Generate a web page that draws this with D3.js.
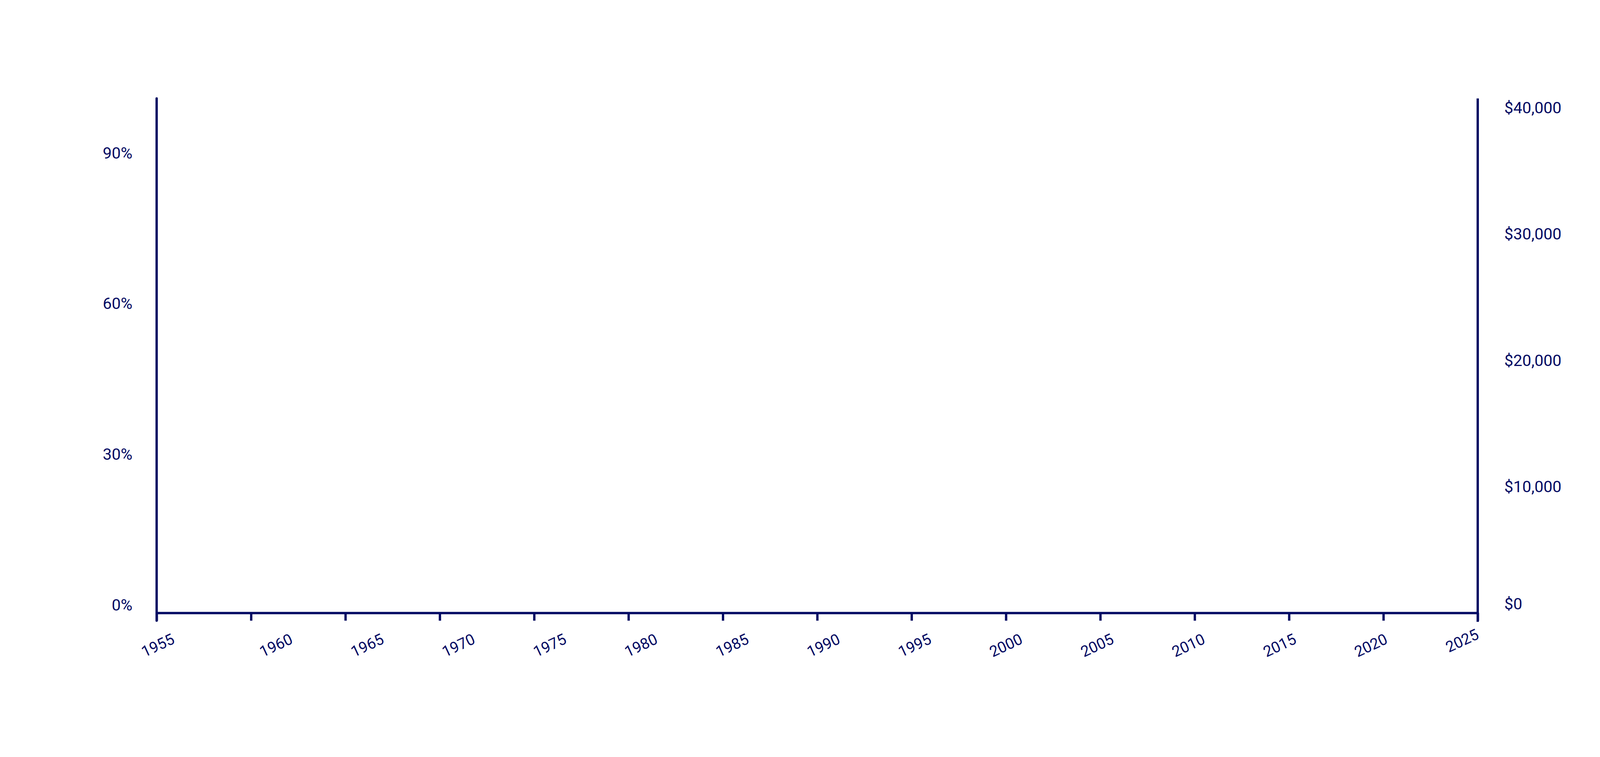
<!DOCTYPE html>
<html>
<head>
<meta charset="utf-8">
<script src="https://cdn.jsdelivr.net/npm/d3@7"></script>
<style>
  html, body { margin: 0; padding: 0; background: #fff; }
  svg { display: block; font-family: Roboto, "Noto Sans", sans-serif; }
</style>
</head>
<body>
<div id="chart"></div>
<script>
// Axis-only chart: years along the bottom, share (left) and dollars (right)

const years = [1955, 1960, 1965, 1970, 1975, 1980, 1985, 1990, 1995, 2000, 2005, 2010, 2015, 2020, 2025];
const pctTicks = [0, 0.3, 0.6, 0.9];
const usdTicks = [0, 10000, 20000, 30000, 40000];

const W = 4320, H = 1938;
const ink = '#020a63';
const plot = { left: 401, right: 3783, top: 252, bottom: 1569 };

const svg = d3.select('#chart').append('svg')
    .attr('width', W)
    .attr('height', H);

// Scales
const x = d3.scaleLinear()
    .domain([1955, 2025])
    .range([plot.left, plot.right]);

const yPct = d3.scaleLinear()
    .domain([0, 0.9])
    .range([1549, 392]);

const yUsd = d3.scaleLinear()
    .domain([0, 40000])
    .range([plot.bottom + 1, 277]);

// tick labels sit on a slightly tighter spread than the ticks themselves
const labelX = d3.scaleLinear()
    .domain([1960, 2025])
    .range([x(1960) + 64, x(2025) - 40]);

// X axis
const xAxis = svg.append('g')
    .attr('transform', `translate(0,${plot.bottom})`)
    .call(d3.axisBottom(x)
        .tickValues(years)
        .tickSize(20)
        .tickSizeOuter(0)
        .tickFormat(''));

xAxis.select('.domain')
    .attr('stroke', ink)
    .attr('stroke-width', 6);
xAxis.selectAll('.tick line')
    .attr('stroke', ink)
    .attr('stroke-width', 6);

svg.append('g')
    .selectAll('text')
    .data(years)
    .join('text')
    .attr('transform', (d, i) => {
        const cx = i === 0 ? x(d) + 3 : labelX(d);
        const cy = i === years.length - 1 ? 1640 : 1652;
        return `translate(${cx},${cy}) rotate(-25)`;
    })
    .attr('text-anchor', 'middle')
    .attr('dy', '0.35em')
    .attr('font-size', 39)
    .attr('fill', ink)
    .text(d => d);

// Left axis
const leftAxis = svg.append('g')
    .attr('transform', `translate(${plot.left},0)`)
    .call(d3.axisLeft(yPct)
        .tickValues(pctTicks)
        .tickSize(0)
        .tickPadding(62)
        .tickFormat(d3.format('.0%')));

leftAxis.select('.domain').remove();
leftAxis.selectAll('text')
    .attr('font-size', 41)
    .attr('font-family', 'Roboto, "Noto Sans", sans-serif')
    .attr('fill', ink);

svg.append('line')
    .attr('x1', plot.left).attr('x2', plot.left)
    .attr('y1', plot.top).attr('y2', plot.bottom + 20)
    .attr('stroke', ink)
    .attr('stroke-width', 6)
    .attr('stroke-linecap', 'round');

// Right axis
const rightAxis = svg.append('g')
    .attr('transform', `translate(${plot.right},0)`)
    .call(d3.axisRight(yUsd)
        .tickValues(usdTicks)
        .tickSize(0)
        .tickPadding(68)
        .tickFormat(d => '$' + d3.format(',')(d)));

rightAxis.select('.domain').remove();
// keep the $0 label clear of the baseline
rightAxis.selectAll('.tick')
    .attr('transform', d => `translate(0,${Math.min(yUsd(d), plot.bottom - 22)})`);
rightAxis.selectAll('text')
    .attr('font-size', 41)
    .attr('font-family', 'Roboto, "Noto Sans", sans-serif')
    .attr('fill', ink);

svg.append('line')
    .attr('x1', plot.right).attr('x2', plot.right)
    .attr('y1', plot.top).attr('y2', plot.bottom + 23)
    .attr('stroke', ink)
    .attr('stroke-width', 6);
</script>
</body>
</html>
